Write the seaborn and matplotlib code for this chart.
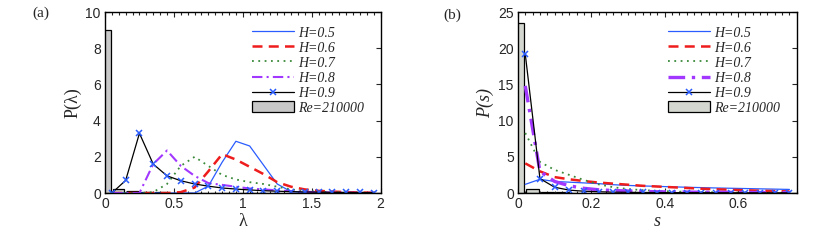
#!/usr/bin/env python
# coding: utf-8
"""Distributions P(lambda) and P(s) for several H values, MATLAB-like two panel figure."""

import numpy as np
import pandas as pd
import matplotlib
matplotlib.use('Agg')
import matplotlib.pyplot as plt
import seaborn as sns
from matplotlib.ticker import MultipleLocator
from matplotlib.patches import Patch
from matplotlib.lines import Line2D

# --- panel (a): P(lambda) ---
lam = [0.05, 0.15, 0.25, 0.35, 0.45, 0.55, 0.65, 0.75, 0.85, 0.95,
       1.05, 1.15, 1.25, 1.35, 1.45, 1.55, 1.65, 1.75, 1.85, 1.95]
pa_h05 = [0, 0, 0, 0, 0, 0, 0, 0.38, 1.7, 2.86,
          2.6, 1.55, 0.5, 0.08, 0.03, 0.02, 0.01, 0.01, 0, 0]
pa_h06 = [0, 0, 0, 0, 0, 0.05, 0.3, 1.2, 2.15, 1.85,
          1.45, 1.05, 0.6, 0.35, 0.2, 0.12, 0.08, 0.05, 0.03, 0.02]
pa_h07 = [0, 0, 0, 0.05, 0.5, 1.5, 2.0, 1.5, 1.0, 0.75,
          0.6, 0.5, 0.35, 0.2, 0.12, 0.08, 0.05, 0.03, 0.02, 0.01]
pa_h08 = [0, 0, 0, 1.6, 2.35, 1.5, 0.95, 0.55, 0.45, 0.35,
          0.25, 0.2, 0.15, 0.1, 0.07, 0.05, 0.03, 0.02, 0.01, 0.01]
pa_h09 = [0, 0.7, 3.3, 1.6, 0.95, 0.68, 0.5, 0.38, 0.28, 0.22,
          0.17, 0.13, 0.1, 0.08, 0.06, 0.05, 0.04, 0.03, 0.03, 0.02]
lam_bins = [0.0, 0.1, 0.2, 0.3, 0.4, 0.5, 0.6, 0.7, 0.8, 0.9, 1.0,
            1.1, 1.2, 1.3, 1.4, 1.5, 1.6, 1.7, 1.8, 1.9, 2.0]
pa_re = [9.0, 0.25, 0.12, 0.05, 0.03, 0.02, 0.01, 0.01, 0.01, 0, 0,
         0, 0, 0, 0, 0, 0, 0, 0, 0, 0]

# --- panel (b): P(s) ---
s = [0.02, 0.06, 0.10, 0.14, 0.18, 0.22, 0.26, 0.30, 0.34, 0.38,
     0.42, 0.46, 0.50, 0.54, 0.58, 0.62, 0.66, 0.70, 0.74]
pb_h05 = [1.2, 1.9, 1.6, 1.5, 1.4, 1.3, 1.15, 1.05, 0.98, 0.92,
          0.86, 0.8, 0.75, 0.7, 0.66, 0.62, 0.58, 0.54, 0.5]
pb_h06 = [4.1, 3.0, 2.2, 1.9, 1.65, 1.45, 1.3, 1.15, 1.0, 0.9,
          0.8, 0.7, 0.6, 0.52, 0.45, 0.38, 0.32, 0.27, 0.22]
pb_h07 = [8.3, 4.3, 3.2, 2.5, 1.8, 1.2, 0.8, 0.55, 0.4, 0.3,
          0.22, 0.17, 0.13, 0.1, 0.08, 0.06, 0.05, 0.04, 0.03]
pb_h08 = [14.8, 3.0, 1.6, 1.0, 0.65, 0.45, 0.35, 0.28, 0.22, 0.18,
          0.15, 0.13, 0.11, 0.1, 0.09, 0.08, 0.07, 0.06, 0.05]
pb_h09 = [19.2, 2.0, 0.8, 0.4, 0.25, 0.18, 0.12, 0.1, 0.08, 0.07,
          0.06, 0.05, 0.05, 0.04, 0.04, 0.03, 0.03, 0.03, 0.02]
s_bins = [0.0, 0.04, 0.08, 0.12, 0.16, 0.20, 0.24, 0.28, 0.32, 0.36,
          0.40, 0.44, 0.48, 0.52, 0.56, 0.60, 0.64, 0.68, 0.72, 0.76]
pb_re = [23.5, 0.5, 0.15, 0.08, 0.05, 0.03, 0.02, 0.01, 0.01, 0.01,
         0, 0, 0, 0, 0, 0, 0, 0, 0, 0]

h_labels = ['H=0.5', 'H=0.6', 'H=0.7', 'H=0.8', 'H=0.9']
re_label = 'Re=210000'

sns.set_style('ticks')
plt.rcParams['font.family'] = ['Liberation Sans', 'DejaVu Sans']

SERIF = ['Liberation Serif', 'DejaVu Serif']

# line style per series (colour, linestyle, width)
styles = [
    dict(color='#2a5cff', linestyle='-', linewidth=0.9),
    dict(color='#ee1c1c', linestyle=(0, (4, 2.5)), linewidth=1.8),
    dict(color='#3a8a3a', linestyle=(0, (1, 2.5)), linewidth=1.3),
    dict(color='#a238ff', linestyle=(0, (5, 2, 1, 2)), linewidth=1.5),
    dict(color='black', linestyle='-', linewidth=0.9),
]


def draw_panel(ax, x, series, bins, re_vals, bar_w, bar_color, purple_w):
    ax.bar(bins, re_vals, width=bar_w, color=bar_color, edgecolor='black',
           linewidth=0.9, zorder=1)
    handles = []
    for i, (y, lab) in enumerate(zip(series, h_labels)):
        st = dict(styles[i])
        if i == 3:
            st['linewidth'] = purple_w
        df = pd.DataFrame({'x': x, 'y': y})
        kw = {}
        if i == 4:
            kw = dict(marker='x', markersize=5, markeredgewidth=1.1,
                      markeredgecolor='#2a5cff', markerfacecolor='#2a5cff')
        sns.lineplot(data=df, x='x', y='y', ax=ax, legend=False, zorder=2,
                     **st, **kw)
        handles.append(Line2D([], [], label=lab, **st, **kw))
    handles.append(Patch(facecolor=bar_color, edgecolor='black',
                         linewidth=0.9, label=re_label))
    ax.legend(handles=handles, loc='upper right', frameon=False,
              prop=dict(family=SERIF, style='italic', size=10),
              handlelength=3.0, handleheight=0.85, handletextpad=0.3,
              labelspacing=0.12, borderaxespad=0.3,
              bbox_to_anchor=(0.975, 0.975), numpoints=1)
    ax.tick_params(which='both', direction='in', top=True, right=True,
                   labelsize=10, width=0.8, pad=3)
    ax.tick_params(which='major', length=3.5)
    ax.tick_params(which='minor', length=1.8)
    ax.yaxis.set_minor_locator(plt.NullLocator())
    for sp in ax.spines.values():
        sp.set_linewidth(1.0)
        sp.set_color('black')


fig = plt.figure(figsize=(8.3, 2.41), dpi=100)
ax1 = fig.add_axes([0.1265, 0.199, 0.332, 0.751])
ax2 = fig.add_axes([0.624, 0.199, 0.336, 0.751])

draw_panel(ax1, lam, [pa_h05, pa_h06, pa_h07, pa_h08, pa_h09],
           lam_bins, pa_re, 0.08, '#c8c8c8', 1.5)
ax1.set_xlim(0, 2)
ax1.set_ylim(0, 10)
ax1.set_xticks([0, 0.5, 1, 1.5, 2])
ax1.set_xticklabels(['0', '0.5', '1', '1.5', '2'])
ax1.set_yticks([0, 2, 4, 6, 8, 10])
ax1.xaxis.set_minor_locator(MultipleLocator(0.05))
ax1.set_xlabel('λ', family=SERIF, fontsize=13, labelpad=1)
ax1.set_ylabel('P(λ)', family=SERIF, fontsize=13, labelpad=3)
fig.text(0.049, 0.945, '(a)', family=SERIF, fontsize=11, va='center', ha='center')

draw_panel(ax2, s, [pb_h05, pb_h06, pb_h07, pb_h08, pb_h09],
           s_bins, pb_re, 0.035, '#d3d7cf', 2.4)
ax2.set_xlim(0, 0.76)
ax2.set_ylim(0, 25)
ax2.set_xticks([0, 0.2, 0.4, 0.6])
ax2.set_xticklabels(['0', '0.2', '0.4', '0.6'])
ax2.set_yticks([0, 5, 10, 15, 20, 25])
ax2.xaxis.set_minor_locator(MultipleLocator(0.02))
ax2.set_xlabel('s', family=SERIF, style='italic', fontsize=13, labelpad=1)
ax2.set_ylabel('P(s)', family=SERIF, style='italic', fontsize=13, labelpad=3)
fig.text(0.545, 0.935, '(b)', family=SERIF, fontsize=11, va='center', ha='center')

fig.savefig('out.png', dpi=100)
